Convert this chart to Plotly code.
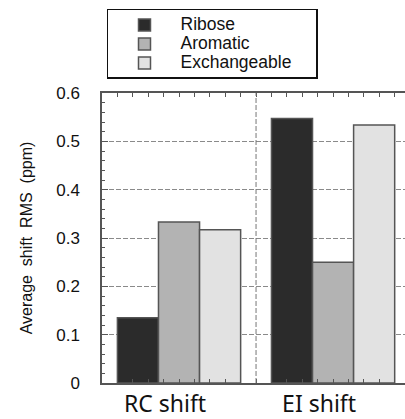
import plotly.graph_objects as go

categories = ["RC shift", "EI shift"]
series_names = ["Ribose", "Aromatic", "Exchangeable"]
ribose = [0.135, 0.547]
aromatic = [0.333, 0.250]
exchangeable = [0.317, 0.534]
y_ticks = [0, 0.1, 0.2, 0.3, 0.4, 0.5, 0.6]
y_labels = ["0", "0.1", "0.2", "0.3", "0.4", "0.5", "0.6"]

colors = ["#2b2b2b", "#b3b3b3", "#e2e2e2"]
values = [ribose, aromatic, exchangeable]

fig = go.Figure()
for name, vals, col in zip(series_names, values, colors):
    fig.add_trace(go.Bar(
        x=[0, 1], y=vals,
        name="<span style='font-size:17.5px'>" + name + "&nbsp;&nbsp;&nbsp;&nbsp;</span>",
        marker=dict(color=col, line=dict(color="#555555", width=1.5)),
    ))

# invisible trace on a second x axis that carries the small inside ticks (top & bottom)
fig.add_trace(go.Scatter(x=[-0.5], y=[0], xaxis="x2", mode="markers",
                         marker=dict(opacity=0), showlegend=False, hoverinfo="skip"))

fig.update_layout(
    width=405, height=419,
    margin=dict(l=102, r=0, t=93, b=36, autoexpand=False),
    paper_bgcolor="white", plot_bgcolor="white",
    barmode="group", bargap=0.2, bargroupgap=0,
    font=dict(family="Liberation Sans, Arial", size=14, color="#111"),
    xaxis=dict(
        range=[-0.5, 1.467], tickvals=[0, 1], ticktext=categories,
        tickfont=dict(family="Noto Sans", size=23, color="#111"),
        ticks="", ticklabelstandoff=0, ticklabelshift=-14, showgrid=False, showline=True,
        linecolor="#555", linewidth=1.5, mirror=True, zeroline=False,
    ),
    xaxis2=dict(
        overlaying="x", range=[-0.5, 1.467], dtick=0.1, tick0=-0.5,
        ticks="inside", ticklen=4, tickcolor="#555", showticklabels=False,
        showgrid=False, zeroline=False, showline=False, mirror="allticks",
        anchor="y",
    ),
    yaxis=dict(
        range=[0, 0.6], tickvals=y_ticks, ticktext=y_labels,
        ticks="inside", ticklen=6, tickcolor="#555", ticklabelstandoff=17,
        minor=dict(dtick=0.02, ticks="inside", ticklen=3, tickcolor="#555", showgrid=False),
        showgrid=True, gridcolor="#8a8a8a", griddash="5px,2px", gridwidth=1,
        showline=True, linecolor="#555", linewidth=1.5, mirror=True, zeroline=False,
        title=dict(text="Average&nbsp; shift&nbsp; RMS&nbsp; (ppm)", font=dict(size=16), standoff=20),
        tickfont=dict(size=17),
    ),
    legend=dict(
        x=0.0165, y=1.29, xanchor="left", yanchor="top",
        bordercolor="#111", borderwidth=1.5, bgcolor="white",
        font=dict(size=12, family="Liberation Sans, Arial"),
        itemwidth=62, tracegroupgap=0,
    ),
    showlegend=True,
)

fig.add_shape(type="line", xref="x", yref="paper", x0=0.5, x1=0.5, y0=0, y1=1,
              line=dict(color="#777", width=1, dash="5px,2px"))

fig.write_html("out.html", config={"displayModeBar": False},
               post_script="document.body.style.margin='0';")
